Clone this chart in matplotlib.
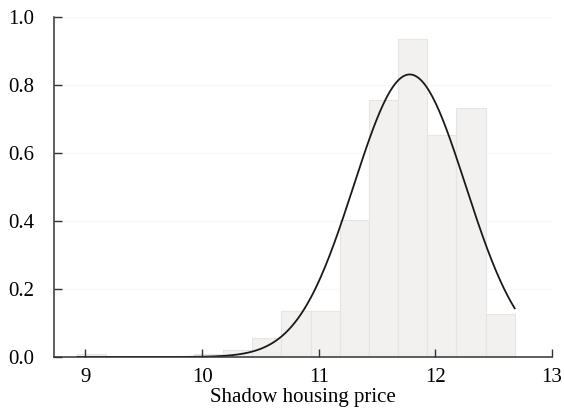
import numpy as np
import matplotlib
matplotlib.use('Agg')
from matplotlib import pyplot as plt

plt.rcParams['font.family'] = ['Liberation Serif', 'DejaVu Serif']

# histogram of log shadow housing price (density, bin width 0.25)
bin_edges = [8.93, 9.18, 9.43, 9.68, 9.93, 10.18, 10.43, 10.68, 10.93,
             11.18, 11.43, 11.68, 11.93, 12.18, 12.43, 12.68]
density = [0.009, 0.0, 0.0, 0.0, 0.010, 0.022, 0.057, 0.135, 0.135,
           0.404, 0.755, 0.934, 0.652, 0.732, 0.125]

# fitted normal
mu = 11.78
sigma = 0.48

xticks = [9, 10, 11, 12, 13]
yticks = [0.0, 0.2, 0.4, 0.6, 0.8, 1.0]

fig = plt.figure(figsize=(5.64, 4.13), dpi=100)
ax = fig.add_axes([0.0957, 0.1356, 0.883, 0.8232])

for y in yticks:
    ax.axhline(y, color='#f8f8f8', lw=1, zorder=0)

ax.bar(bin_edges[:-1], density, width=np.diff(bin_edges), align='edge',
       color='#f2f1f0', edgecolor='#e6e5e4', linewidth=0.8, zorder=1)

xs = np.linspace(bin_edges[0], bin_edges[-1], 400)
pdf = np.exp(-0.5 * ((xs - mu) / sigma) ** 2) / (sigma * np.sqrt(2 * np.pi))
ax.plot(xs, pdf, color='#1a1a1a', lw=1.3, zorder=2)

ax.set_xlim(8.73, 13)
ax.set_ylim(0, 1.0)
ax.set_xticks(xticks)
ax.set_yticks(yticks)
ax.set_yticklabels(['%.1f' % v for v in yticks])
ax.set_xlabel('Shadow housing price', fontsize=15, labelpad=1)

for side in ['top', 'right']:
    ax.spines[side].set_visible(False)
for side in ['left', 'bottom']:
    ax.spines[side].set_color('#333333')
    ax.spines[side].set_linewidth(1.1)
ax.tick_params(direction='in', length=6, width=1, color='#333333',
               labelsize=15)
ax.tick_params(axis='y', pad=14)
ax.tick_params(axis='x', pad=8)

fig.savefig('out.png', dpi=100)
